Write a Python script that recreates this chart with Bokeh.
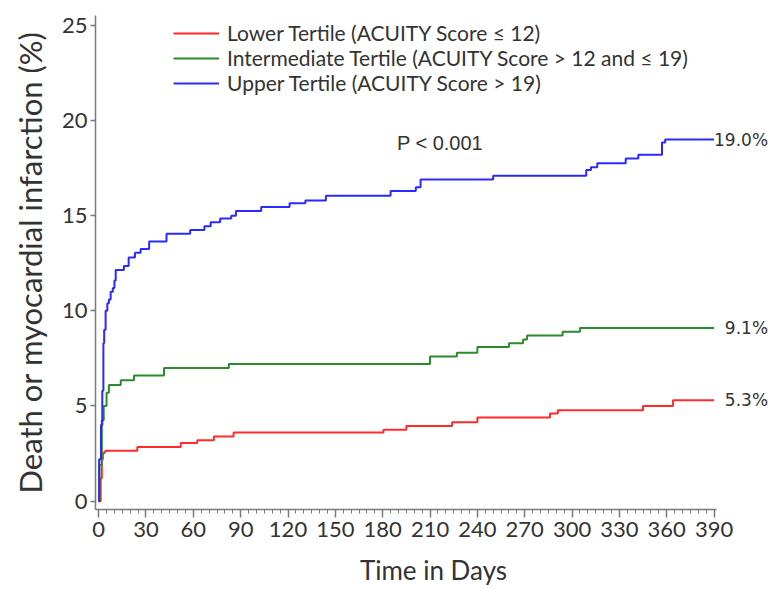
from bokeh.plotting import figure
from bokeh.models import Range1d, SingleIntervalTicker, FixedTicker, Label, Legend, LegendItem
from bokeh.embed import file_html
from bokeh.resources import INLINE

# Kaplan-Meier style cumulative event curves (% death or MI) by ACUITY score tertile
follow_up_end = 390

lower_days = [0, 1.3, 2.0, 2.7, 3.5, 4.4, 24.5, 52, 62.5, 73, 85.5, 180.5, 195, 224, 240, 286, 291, 345, 364]
lower_pct = [0, 1.2, 2.2, 2.5, 2.6, 2.65, 2.85, 3.05, 3.2, 3.4, 3.6, 3.75, 3.95, 4.15, 4.4, 4.6, 4.78, 5.0, 5.3]

inter_days = [0, 0.5, 2.0, 3.2, 5.0, 6.5, 14, 22.4, 41.4, 82.5, 210, 227, 240, 260, 269, 271.5, 294, 305]
inter_pct = [0, 1.9, 4.25, 5.0, 5.7, 6.1, 6.35, 6.6, 7.0, 7.2, 7.6, 7.8, 8.1, 8.3, 8.5, 8.7, 8.9, 9.1]

upper_days = [0, 0.3, 1.5, 2.3, 3.0, 3.5, 4.4, 5.5, 6.5, 7.6, 9, 10, 10.8, 16, 19, 23, 26.6, 32, 43,
              58, 67, 71, 77, 84, 87, 103, 121, 131, 144, 185, 201, 204, 250, 309, 312, 316, 334,
              342, 357, 359]
upper_pct = [0, 2.2, 4.0, 5.8, 8.3, 9.0, 10.0, 10.4, 10.6, 11.0, 11.2, 11.6, 12.15, 12.35, 12.8, 13.05,
             13.25, 13.65, 14.05, 14.25, 14.45, 14.65, 14.85, 15.0, 15.25, 15.45, 15.65, 15.8, 16.05,
             16.3, 16.5, 16.9, 17.1, 17.4, 17.55, 17.75, 18.0, 18.2, 18.85, 19.0]

series = [
    ("Lower Tertile (ACUITY Score \u2264 12)", lower_days, lower_pct, "#ff2b2b", "5.3%"),
    ("Intermediate Tertile (ACUITY Score > 12 and \u2264 19)", inter_days, inter_pct, "#2a8c2a", "9.1%"),
    ("Upper Tertile (ACUITY Score > 19)", upper_days, upper_pct, "#2a2aff", "19.0%"),
]

y_ticks = [0, 5, 10, 15, 20, 25]

TEXT = "#333333"
AXIS = "#7a7a7a"
FONT = "Lato"

# the frame runs to the right edge so the end-of-curve labels fit; the axis itself stops at day 391.5
p = figure(width=771, height=589, output_backend="svg", toolbar_location=None,
           x_range=Range1d(-2, 426.4), y_range=Range1d(-0.44, 25.52),
           min_border_left=95, min_border_right=0, min_border_top=15, min_border_bottom=80,
           x_axis_label="Time in Days", y_axis_label="Death or myocardial infarction (%)")
p.outline_line_color = None
p.grid.visible = False
p.background_fill_color = "white"
p.border_fill_color = "white"

p.xaxis.ticker = SingleIntervalTicker(interval=30, num_minor_ticks=6)
p.xaxis.bounds = (-2, 391.5)
p.yaxis.ticker = FixedTicker(ticks=y_ticks, minor_ticks=[])

for ax in (p.xaxis, p.yaxis):
    ax.axis_line_color = AXIS
    ax.axis_line_width = 1.5
    ax.major_tick_line_color = AXIS
    ax.major_tick_line_width = 1.5
    ax.minor_tick_line_color = AXIS
    ax.major_tick_in = 0
    ax.minor_tick_in = 0
    ax.major_label_text_font = FONT
    ax.major_label_text_color = TEXT
    ax.major_label_text_font_size = "22px"
    ax.major_label_text_line_height = 0.9
    ax.axis_label_text_font = FONT
    ax.axis_label_text_color = TEXT
    ax.axis_label_text_font_style = "normal"
    ax.axis_label_text_line_height = 0.9

p.xaxis.axis_label_text_font_size = "26px"
p.yaxis.axis_label_text_font_size = "31px"
p.xaxis.major_tick_out = 8
p.xaxis.minor_tick_out = 4
p.xaxis.major_label_standoff = 4
p.xaxis.axis_label_standoff = 14
p.yaxis.major_tick_out = 5
p.yaxis.minor_tick_out = 0
p.yaxis.major_label_standoff = 3
p.yaxis.axis_label_standoff = 10

items = []
for name, days, pct, color, end_text in series:
    xs = list(days) + [follow_up_end]
    ys = list(pct) + [pct[-1]]
    r = p.step(xs, ys, mode="after", line_color=color, line_width=2)
    items.append(LegendItem(label=name, renderers=[r]))
    p.add_layout(Label(x=follow_up_end, y=pct[-1], text=end_text, text_align="right",
                       text_baseline="middle", x_offset=54, text_font="DejaVu Sans",
                       text_font_size="17px", text_color=TEXT))

legend = Legend(items=items, location=(78, 414), orientation="vertical",
                label_text_font=FONT, label_text_font_size="21px", label_text_color=TEXT,
                label_text_line_height=0.9,
                glyph_width=46, glyph_height=22, label_height=22, label_standoff=8,
                spacing=0, padding=0, margin=0, border_line_color=None,
                background_fill_alpha=0)
p.add_layout(legend)

p.add_layout(Label(x=189, y=18.8, text="P < 0.001", text_align="left", text_baseline="middle",
                   text_font="Liberation Sans", text_font_size="20px", text_color=TEXT))

open("out.html", "w").write(file_html(p, INLINE))
